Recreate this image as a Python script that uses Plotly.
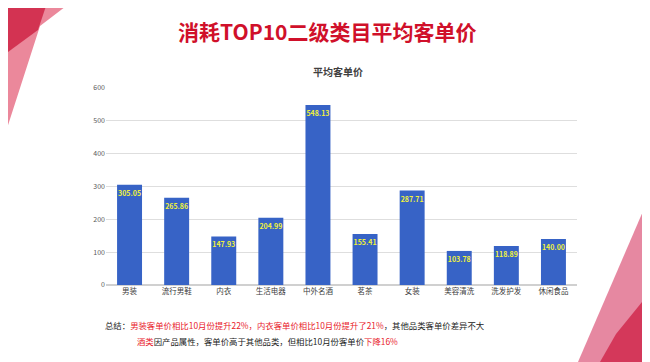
import plotly.graph_objects as go

categories = ["男装", "流行男鞋", "内衣", "生活电器", "中外名酒", "茗茶", "女装", "美容清洗", "洗发护发", "休闲食品"]
values = [305.05, 265.86, 147.93, 204.99, 548.13, 155.41, 287.71, 103.78, 118.89, 140.00]
y_ticks = [0, 100, 200, 300, 400, 500, 600]

FONT = "Noto Sans CJK SC"
W, H = 650, 362
OFF = 8  # page body margin offset
L, R, T, B = 106, 577, 88, 285  # plot area in window pixels


def px(x):
    return (x - L) / (R - L)


def py(y):
    return (B - y) / (B - T)


def poly(points):
    d = "M " + " L ".join(f"{px(x):.4f},{py(y):.4f}" for x, y in points) + " Z"
    return d


fig = go.Figure()
fig.add_trace(go.Bar(
    x=categories, y=values,
    marker=dict(color="#3763c6", line=dict(width=0)),
    text=[f"<b>{v:.2f}</b>" for v in values],
    textposition="inside", insidetextanchor="end",
    textfont=dict(color="#f2f23a", size=7, family=FONT),
    textangle=0, cliponaxis=False,
))

shapes = [
    dict(type="path", path=poly([(0, 0), (74, 0), (40, 26), (0, 150)]), xref="paper", yref="paper",
         fillcolor="#e8738a", line=dict(width=0), layer="below", opacity=0.85),
    dict(type="path", path=poly([(0, 0), (48, 0), (38, 30), (0, 58)]), xref="paper", yref="paper",
         fillcolor="#cf2445", line=dict(width=0), layer="below", opacity=0.85),
    dict(type="path", path=poly([(650, 195), (650, 362), (578, 362)]), xref="paper", yref="paper",
         fillcolor="#e27390", line=dict(width=0), layer="below", opacity=0.85),
    dict(type="path", path=poly([(650, 292), (650, 362), (600, 362), (616, 334)]), xref="paper", yref="paper",
         fillcolor="#d02a4e", line=dict(width=0), layer="below", opacity=0.85),
]

red = "#e8202a"
line1 = ("总结：<span style='color:%s'>男装客单价相比10月份提升22%%，内衣客单价相比10月份提升了21%%</span>，其他品类客单价差异不大" % red)
line2 = ("<span style='color:%s'>酒类</span>因产品属性，客单价高于其他品类，但相比10月份客单价<span style='color:%s'>下降16%%</span>" % (red, red))

annotations = [
    dict(text="<b>消耗TOP10二级类目平均客单价</b>", x=px(327), y=py(31), xref="paper", yref="paper",
         showarrow=False, xanchor="center", yanchor="middle",
         font=dict(family=FONT, size=21, color="#d0102a")),
    dict(text="<b>平均客单价</b>", x=px(338), y=py(71), xref="paper", yref="paper",
         showarrow=False, xanchor="center", yanchor="middle",
         font=dict(family=FONT, size=10, color="#404040")),
    dict(text=line1, x=px(103), y=py(325), xref="paper", yref="paper",
         showarrow=False, xanchor="left", yanchor="middle",
         font=dict(family=FONT, size=8.4, color="#222222")),
    dict(text=line2, x=px(135), y=py(341), xref="paper", yref="paper",
         showarrow=False, xanchor="left", yanchor="middle",
         font=dict(family=FONT, size=8.4, color="#222222")),
]

fig.update_layout(
    width=W, height=H,
    margin=dict(l=L - OFF, r=W - (R - OFF), t=T - OFF, b=H - (B - OFF), pad=0),
    paper_bgcolor="white", plot_bgcolor="white",
    bargap=0.47,
    showlegend=False,
    shapes=shapes,
    annotations=annotations,
    font=dict(family=FONT),
    uniformtext=dict(minsize=6, mode="show"),
)
fig.update_xaxes(showline=False, showgrid=False, ticks="",
                 tickfont=dict(family=FONT, size=7.5, color="#404040"))
fig.update_yaxes(range=[0, 600], tickvals=y_ticks, showgrid=True, gridcolor="#dedede", gridwidth=1,
                 zeroline=True, zerolinecolor="#d0d0d0", showline=False, ticks="",
                 tickfont=dict(family=FONT, size=7, color="#595959"), ticksuffix="  ")

fig.write_html("out.html")
